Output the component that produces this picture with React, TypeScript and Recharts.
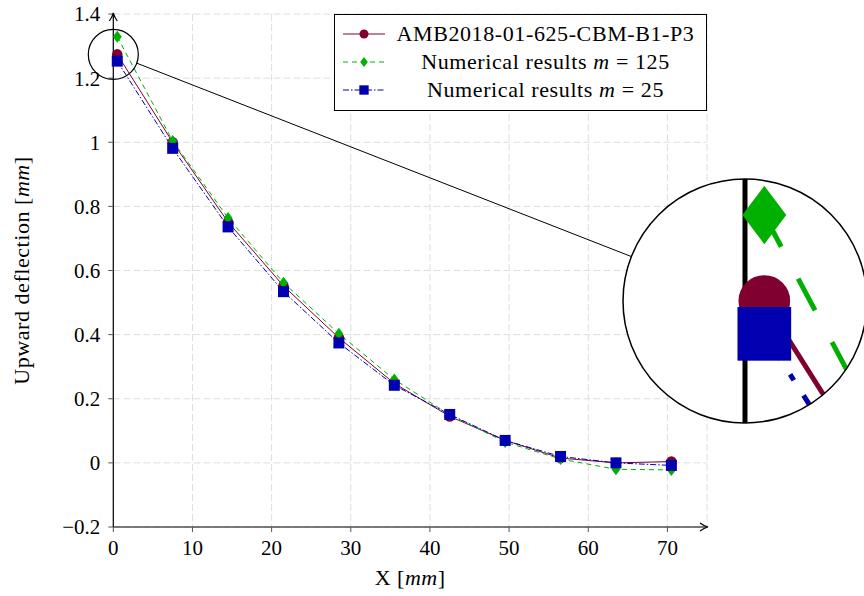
import React from 'react';
import {
  LineChart,
  Line,
  XAxis,
  YAxis,
  CartesianGrid,
  ReferenceDot,
  ReferenceLine,
} from 'recharts';

const xPositions = [0.5, 7.5, 14.5, 21.5, 28.5, 35.5, 42.5, 49.5, 56.5, 63.5, 70.5];
const experimental = [1.274, 1.0, 0.751, 0.552, 0.39, 0.248, 0.145, 0.07, 0.015, 0.0, 0.004];
const numericalM125 = [1.329, 1.004, 0.764, 0.562, 0.403, 0.26, 0.15, 0.065, 0.012, -0.02, -0.022];
const numericalM25 = [1.253, 0.981, 0.736, 0.534, 0.374, 0.242, 0.151, 0.07, 0.02, 0.0, -0.008];

const xTicks = [0, 10, 20, 30, 40, 50, 60, 70];
const yTicks = [-0.2, 0, 0.2, 0.4, 0.6, 0.8, 1, 1.2, 1.4];

const data = xPositions.map((x, i) => ({
  x,
  exp: experimental[i],
  m125: numericalM125[i],
  m25: numericalM25[i],
}));

const FONT = '"Liberation Serif", "Times New Roman", serif';
const RED = '#800030';
const GREEN = '#00b000';
const BLUE = '#0000b0';

// spy glass: small lens on the first points, magnified into a big circle
const SPY_CENTER = { x: 0, y: 1.274 };
const SPY_R = 25;
const BIG_R = 122;
const MAG = BIG_R / SPY_R;
const PX_PER_X = 594 / 75;
const PX_PER_Y = 512.7 / 1.6;

type Shape = 'circle' | 'diamond' | 'square';

const series: { key: string; name: React.ReactNode; color: string; dash?: string; shape: Shape }[] = [
  { key: 'exp', name: 'AMB2018-01-625-CBM-B1-P3', color: RED, shape: 'circle' },
  {
    key: 'm125',
    name: (
      <>
        Numerical results <i>m</i> = 125
      </>
    ),
    color: GREEN,
    dash: '5 4',
    shape: 'diamond',
  },
  {
    key: 'm25',
    name: (
      <>
        Numerical results <i>m</i> = 25
      </>
    ),
    color: BLUE,
    dash: '6 2 1.5 2',
    shape: 'square',
  },
];

function marker(shape: Shape, cx: number, cy: number, color: string, s: number, key?: string) {
  if (shape === 'circle') return <circle key={key} cx={cx} cy={cy} r={5.3 * s} fill={color} />;
  if (shape === 'diamond') {
    const w = 4.5 * s;
    const h = 6 * s;
    return (
      <path
        key={key}
        d={`M${cx},${cy - h}L${cx + w},${cy}L${cx},${cy + h}L${cx - w},${cy}Z`}
        fill={color}
      />
    );
  }
  const a = 5.5 * s;
  return <rect key={key} x={cx - a} y={cy - a} width={2 * a} height={2 * a} fill={color} />;
}

const makeDot = (shape: Shape, color: string, s: number) => (p: any) =>
  marker(shape, p.cx, p.cy, color, s, `${shape}-${p.index}`);

const fmtY = (v: number) => (v < 0 ? `\u2212${Math.abs(v)}` : `${v}`);

const Arrow = ({ cx, cy, dir }: { cx?: number; cy?: number; dir: 'right' | 'up' }) => {
  if (cx == null || cy == null) return <g />;
  const d =
    dir === 'right'
      ? `M${cx - 7},${cy - 4}Q${cx - 3},${cy - 1} ${cx + 1},${cy}Q${cx - 3},${cy + 1} ${cx - 7},${cy + 4}`
      : `M${cx - 4},${cy + 7}Q${cx - 1},${cy + 3} ${cx},${cy - 1}Q${cx + 1},${cy + 3} ${cx + 4},${cy + 7}`;
  return <path d={d} fill="none" stroke="#000" strokeWidth={1.2} />;
};

const XLabel = ({ viewBox }: any) => {
  const { x, y, width } = viewBox;
  return (
    <text x={x + width / 2} y={y + 58} textAnchor="middle" fill="#000" fontSize={22} fontFamily={FONT} letterSpacing={0.5}>
      X [<tspan fontStyle="italic">mm</tspan>]
    </text>
  );
};

const YLabel = ({ viewBox }: any) => {
  const { y, height } = viewBox;
  const cx = 29;
  const cy = y + height / 2;
  return (
    <text
      x={cx}
      y={cy}
      transform={`rotate(-90 ${cx} ${cy})`}
      textAnchor="middle"
      fill="#000"
      fontSize={22}
      fontFamily={FONT}
      letterSpacing={0.55}
    >
      Upward deflection [<tspan fontStyle="italic">mm</tspan>]
    </text>
  );
};

const LegendBox = () => (
  <div
    style={{
      position: 'absolute',
      left: 334,
      top: 14,
      border: '1px solid #000',
      background: '#fff',
      width: 373,
      height: 97,
      boxSizing: 'border-box',
      fontFamily: FONT,
      fontSize: 22,
      letterSpacing: 0.6,
      padding: '5px 0 0 0',
      lineHeight: '28px',
    }}
  >
    {series.map((s) => (
      <div key={s.key} style={{ display: 'flex', alignItems: 'center', height: 28 }}>
        <svg width={50} height={20} style={{ flex: 'none', marginLeft: 6 }}>
          <line x1={2} y1={10} x2={44} y2={10} stroke={s.color} strokeWidth={1} strokeDasharray={s.dash} />
          {marker(s.shape, 23, 10, s.color, 0.85)}
        </svg>
        <div style={{ flex: 1, textAlign: 'center', whiteSpace: 'nowrap', marginRight: 6 }}>{s.name}</div>
      </div>
    ))}
  </div>
);

function ZoomInset() {
  const hx = BIG_R / (PX_PER_X * MAG);
  const hy = BIG_R / (PX_PER_Y * MAG);
  return (
    <div
      style={{
        position: 'absolute',
        left: 745 - BIG_R,
        top: 301 - BIG_R,
        width: 2 * BIG_R,
        height: 2 * BIG_R,
        borderRadius: '50%',
        overflow: 'hidden',
        background: '#fff',
      }}
    >
      <LineChart width={2 * BIG_R} height={2 * BIG_R} data={data} margin={{ top: 0, right: 0, bottom: 0, left: 0 }}>
        <XAxis
          type="number"
          dataKey="x"
          hide
          domain={[SPY_CENTER.x - hx, SPY_CENTER.x + hx]}
          allowDataOverflow
        />
        <YAxis type="number" hide domain={[SPY_CENTER.y - hy, SPY_CENTER.y + hy]} allowDataOverflow />
        <ReferenceLine x={0} stroke="#000" strokeWidth={5} ifOverflow="visible" />
        {series.map((s) => (
          <Line
            key={s.key}
            dataKey={s.key}
            type="linear"
            stroke={s.color}
            strokeWidth={5}
            strokeDasharray={s.key === 'm125' ? '36 36' : s.key === 'm25' ? '30 18 7 18' : undefined}
            dot={makeDot(s.shape, s.color, MAG)}
            activeDot={false}
            isAnimationActive={false}
          />
        ))}
      </LineChart>
    </div>
  );
}

export default function App() {
  const sx = 113.3;
  const sy = 54;
  const bx = 745;
  const by = 301;
  const len = Math.hypot(bx - sx, by - sy);
  const ux = (bx - sx) / len;
  const uy = (by - sy) / len;

  return (
    <div style={{ position: 'absolute', left: 0, top: 0, width: 864, height: 596, background: '#fff' }}>
      <LineChart
        width={864}
        height={596}
        data={data}
        margin={{ top: 14, right: 157, bottom: 29, left: 0 }}
        style={{ fontFamily: FONT }}
      >
        <CartesianGrid stroke="#dedede" strokeDasharray="7 3" />
        <XAxis
          type="number"
          dataKey="x"
          domain={[0, 75]}
          ticks={xTicks}
          height={40}
          tickSize={5}
          tickMargin={8}
          tickLine={{ stroke: '#555' }}
          axisLine={{ stroke: '#000', strokeWidth: 1.2 }}
          tick={{ fill: '#000', fontSize: 21, fontFamily: FONT }}
          label={<XLabel />}
        />
        <YAxis
          type="number"
          domain={[-0.2, 1.4]}
          ticks={yTicks}
          width={113.3}
          tickSize={5}
          tickMargin={8}
          tickFormatter={fmtY}
          tickLine={{ stroke: '#555' }}
          axisLine={{ stroke: '#000', strokeWidth: 1.2 }}
          tick={{ fill: '#000', fontSize: 21, fontFamily: FONT }}
          label={<YLabel />}
        />
        {series.map((s) => (
          <Line
            key={s.key}
            dataKey={s.key}
            type="linear"
            stroke={s.color}
            strokeWidth={1}
            strokeDasharray={s.dash}
            dot={makeDot(s.shape, s.color, 1)}
            activeDot={false}
            isAnimationActive={false}
          />
        ))}
        <ReferenceDot x={75} y={-0.2} r={0} ifOverflow="visible" shape={(p: any) => <Arrow {...p} dir="right" />} />
        <ReferenceDot x={0} y={1.4} r={0} ifOverflow="visible" shape={(p: any) => <Arrow {...p} dir="up" />} />
        <ReferenceDot
          x={SPY_CENTER.x}
          y={SPY_CENTER.y}
          r={SPY_R}
          fill="none"
          stroke="#000"
          strokeWidth={1.2}
          ifOverflow="visible"
        />
      </LineChart>
      <LegendBox />
      <ZoomInset />
      <svg
        width={864}
        height={596}
        style={{ position: 'absolute', left: 0, top: 0, pointerEvents: 'none' }}
      >
        <line
          x1={sx + ux * SPY_R}
          y1={sy + uy * SPY_R}
          x2={bx - ux * BIG_R}
          y2={by - uy * BIG_R}
          stroke="#000"
          strokeWidth={1}
        />
        <circle cx={bx} cy={by} r={BIG_R} fill="none" stroke="#000" strokeWidth={1.5} />
      </svg>
    </div>
  );
}
